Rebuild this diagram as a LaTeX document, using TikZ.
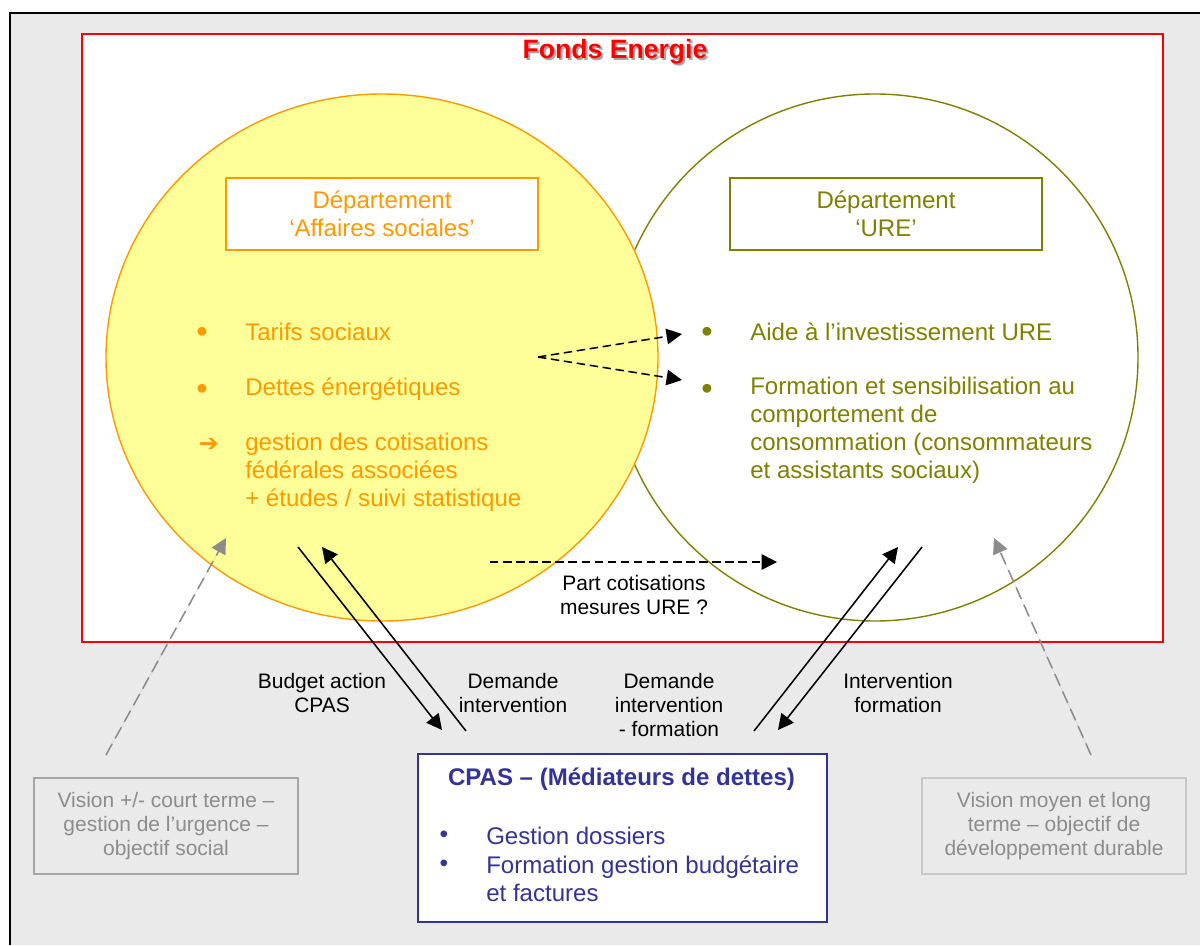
\documentclass[tikz,border=0pt]{standalone}
\usepackage{fontspec}
\setmainfont{Liberation Sans}
\newfontfamily\dingfont{DejaVu Sans}
\usetikzlibrary{arrows.meta}

\definecolor{fondred}{HTML}{FF0000}
\definecolor{socorange}{HTML}{FF9900}
\definecolor{socyellow}{HTML}{FFFF99}
\definecolor{ureolive}{HTML}{808000}
\definecolor{cpasblue}{HTML}{333399}
\definecolor{pagegray}{HTML}{EAEAEA}
\definecolor{visiontext}{HTML}{8C8C8C}
\definecolor{visionedge}{HTML}{A6A6A6}
\definecolor{visionpale}{HTML}{C8C8C8}

\tikzset{
    bigtxt/.style={font=\fontsize{17.1}{19.9}\selectfont},
    smalltxt/.style={font=\fontsize{14.9}{17.1}\selectfont},
    dept/.style={draw, line width=1.4pt, fill=white, bigtxt, align=center,
        minimum width=7.8cm, minimum height=1.8cm},
    item/.style={bigtxt, anchor=west, inner sep=0pt, align=left},
    dot/.style={font=\fontsize{23}{23}\selectfont, inner sep=0pt},
    flow/.style={-{Triangle[length=11pt,width=11pt]}, line width=1.1pt},
    hint/.style={flow, dash pattern=on 6pt off 3.3pt},
    vision/.style={draw, line width=1.5pt, fill=pagegray, smalltxt, align=center,
        text=visiontext, minimum width=6.6cm, minimum height=2.4cm},
    visionarrow/.style={-{Triangle[length=11pt,width=11pt]}, line width=1.1pt,
        dash pattern=on 9pt off 4.5pt, draw=visiontext, fill=visiontext}
}

\begin{document}
\begin{tikzpicture}[x=0.025cm, y=-0.025cm]
%\draw [help lines] (0,0) grid [step=100] (1200,945);
    \useasboundingbox (0,0) rectangle (1200,945);
    \fill [pagegray] (10,13) rectangle (1200,945);
    \draw [line width=1.4pt] (10,945) -- (10,13) -- (1200,13);
    \draw [fondred, fill=white, line width=1.2pt] (82,34) rectangle (1163,642);
    \node [text=black!35, font=\fontsize{18.9}{22}\selectfont\bfseries] (titleshadow) at (617,54) {Fonds Energie};
    \node [text=fondred, font=\fontsize{18.9}{22}\selectfont\bfseries] (title) at (615,52) {Fonds Energie};

    % the two departments
    \draw [ureolive, line width=1pt] (875,357.5) ellipse [x radius=263, y radius=263.5];
    \draw [socorange, fill=socyellow, line width=1pt] (382,357.5) ellipse [x radius=276, y radius=263.5];
    \node [dept, draw=socorange, text=socorange] (social) at (382,214) {Département\\‘Affaires sociales’};
    \node [dept, draw=ureolive, text=ureolive] (ure) at (886,214) {Département\\‘URE’};

    \begin{scope}[text=socorange]
        \node [dot] (dotA) at (202,335) {•};
        \node [item] (tarifs) at (245,332) {Tarifs sociaux};
        \node [dot] (dotB) at (202,392) {•};
        \node [item] (dettes) at (245,389) {Dettes énergétiques};
        \node [inner sep=0pt, font=\dingfont\fontsize{17}{17}\selectfont\bfseries] (dotC) at (209,445) {➔};
        \node [item] (cotis) at (245,472) {gestion des cotisations\\fédérales associées\\+ études / suivi statistique};
    \end{scope}
    \begin{scope}[text=ureolive]
        \node [dot] (dotD) at (707,335) {•};
        \node [item] (aide) at (750,332) {Aide à l’investissement URE};
        \node [dot] (dotE) at (707,392) {•};
        \node [item] (formation) at (750,430.5) {Formation et sensibilisation au\\comportement de\\consommation (consommateurs\\et assistants sociaux)};
    \end{scope}

    \coordinate (fork) at (538,357);
    \coordinate (aideIn) at (682,334);
    \coordinate (formIn) at (682,380);
    \draw [hint] (fork) -- (aideIn);
    \draw [hint] (fork) -- (formIn);

    \coordinate (partS) at (490,562);
    \coordinate (partE) at (777,562);
    \draw [hint] (partS) -- (partE);
    \node [smalltxt, align=center] (partlbl) at (634,595) {Part cotisations\\mesures URE ?};

    % CPAS
    \node [draw=cpasblue, line width=1.2pt, fill=white, minimum width=10.225cm, minimum height=4.2cm] (cpas) at (622.5,838) {};
    \begin{scope}[text=cpasblue]
        \node [font=\fontsize{17.1}{19.9}\selectfont\bfseries] (cpastitle) at (621.5,779) {CPAS – (Médiateurs de dettes)};
        \node [dot, font=\fontsize{17.5}{17.5}\selectfont] (dotF) at (444,837) {•};
        \node [item] (dossiers) at (486,836) {Gestion dossiers};
        \node [dot, font=\fontsize{17.5}{17.5}\selectfont] (dotG) at (444,866) {•};
        \node [item] (budget) at (486,878.5) {Formation gestion budgétaire\\et factures};
    \end{scope}

    \coordinate (budgetS) at (298,547);
    \coordinate (budgetE) at (442,730);
    \coordinate (demS) at (466,731);
    \coordinate (demE) at (322,547);
    \coordinate (demFS) at (754,731);
    \coordinate (demFE) at (898,547);
    \coordinate (intS) at (922,547);
    \coordinate (intE) at (778,730);
    \draw [flow] (budgetS) -- (budgetE);
    \draw [flow] (demS) -- (demE);
    \draw [flow] (demFS) -- (demFE);
    \draw [flow] (intS) -- (intE);
    \node [smalltxt, align=center] (budgetlbl) at (322,693) {Budget action\\CPAS};
    \node [smalltxt, align=center] (demlbl) at (513,693) {Demande\\intervention};
    \node [smalltxt, align=center] (demformlbl) at (669,705) {Demande\\intervention\\- formation};
    \node [smalltxt, align=center] (intlbl) at (898,693) {Intervention\\formation};

    % visions
    \node [vision, draw=visionedge] (shortterm) at (166,826) {Vision +/- court terme –\\gestion de l’urgence –\\objectif social};
    \node [vision, draw=visionpale] (longterm) at (1054,826) {Vision moyen et long\\terme – objectif de\\développement durable};
    \coordinate (shortS) at (106,755);
    \coordinate (shortE) at (226,538);
    \coordinate (longS) at (1091,755);
    \coordinate (longE) at (994,538);
    \draw [visionarrow] (shortS) -- (shortE);
    \draw [visionarrow] (longS) -- (longE);
\end{tikzpicture}
\end{document}
